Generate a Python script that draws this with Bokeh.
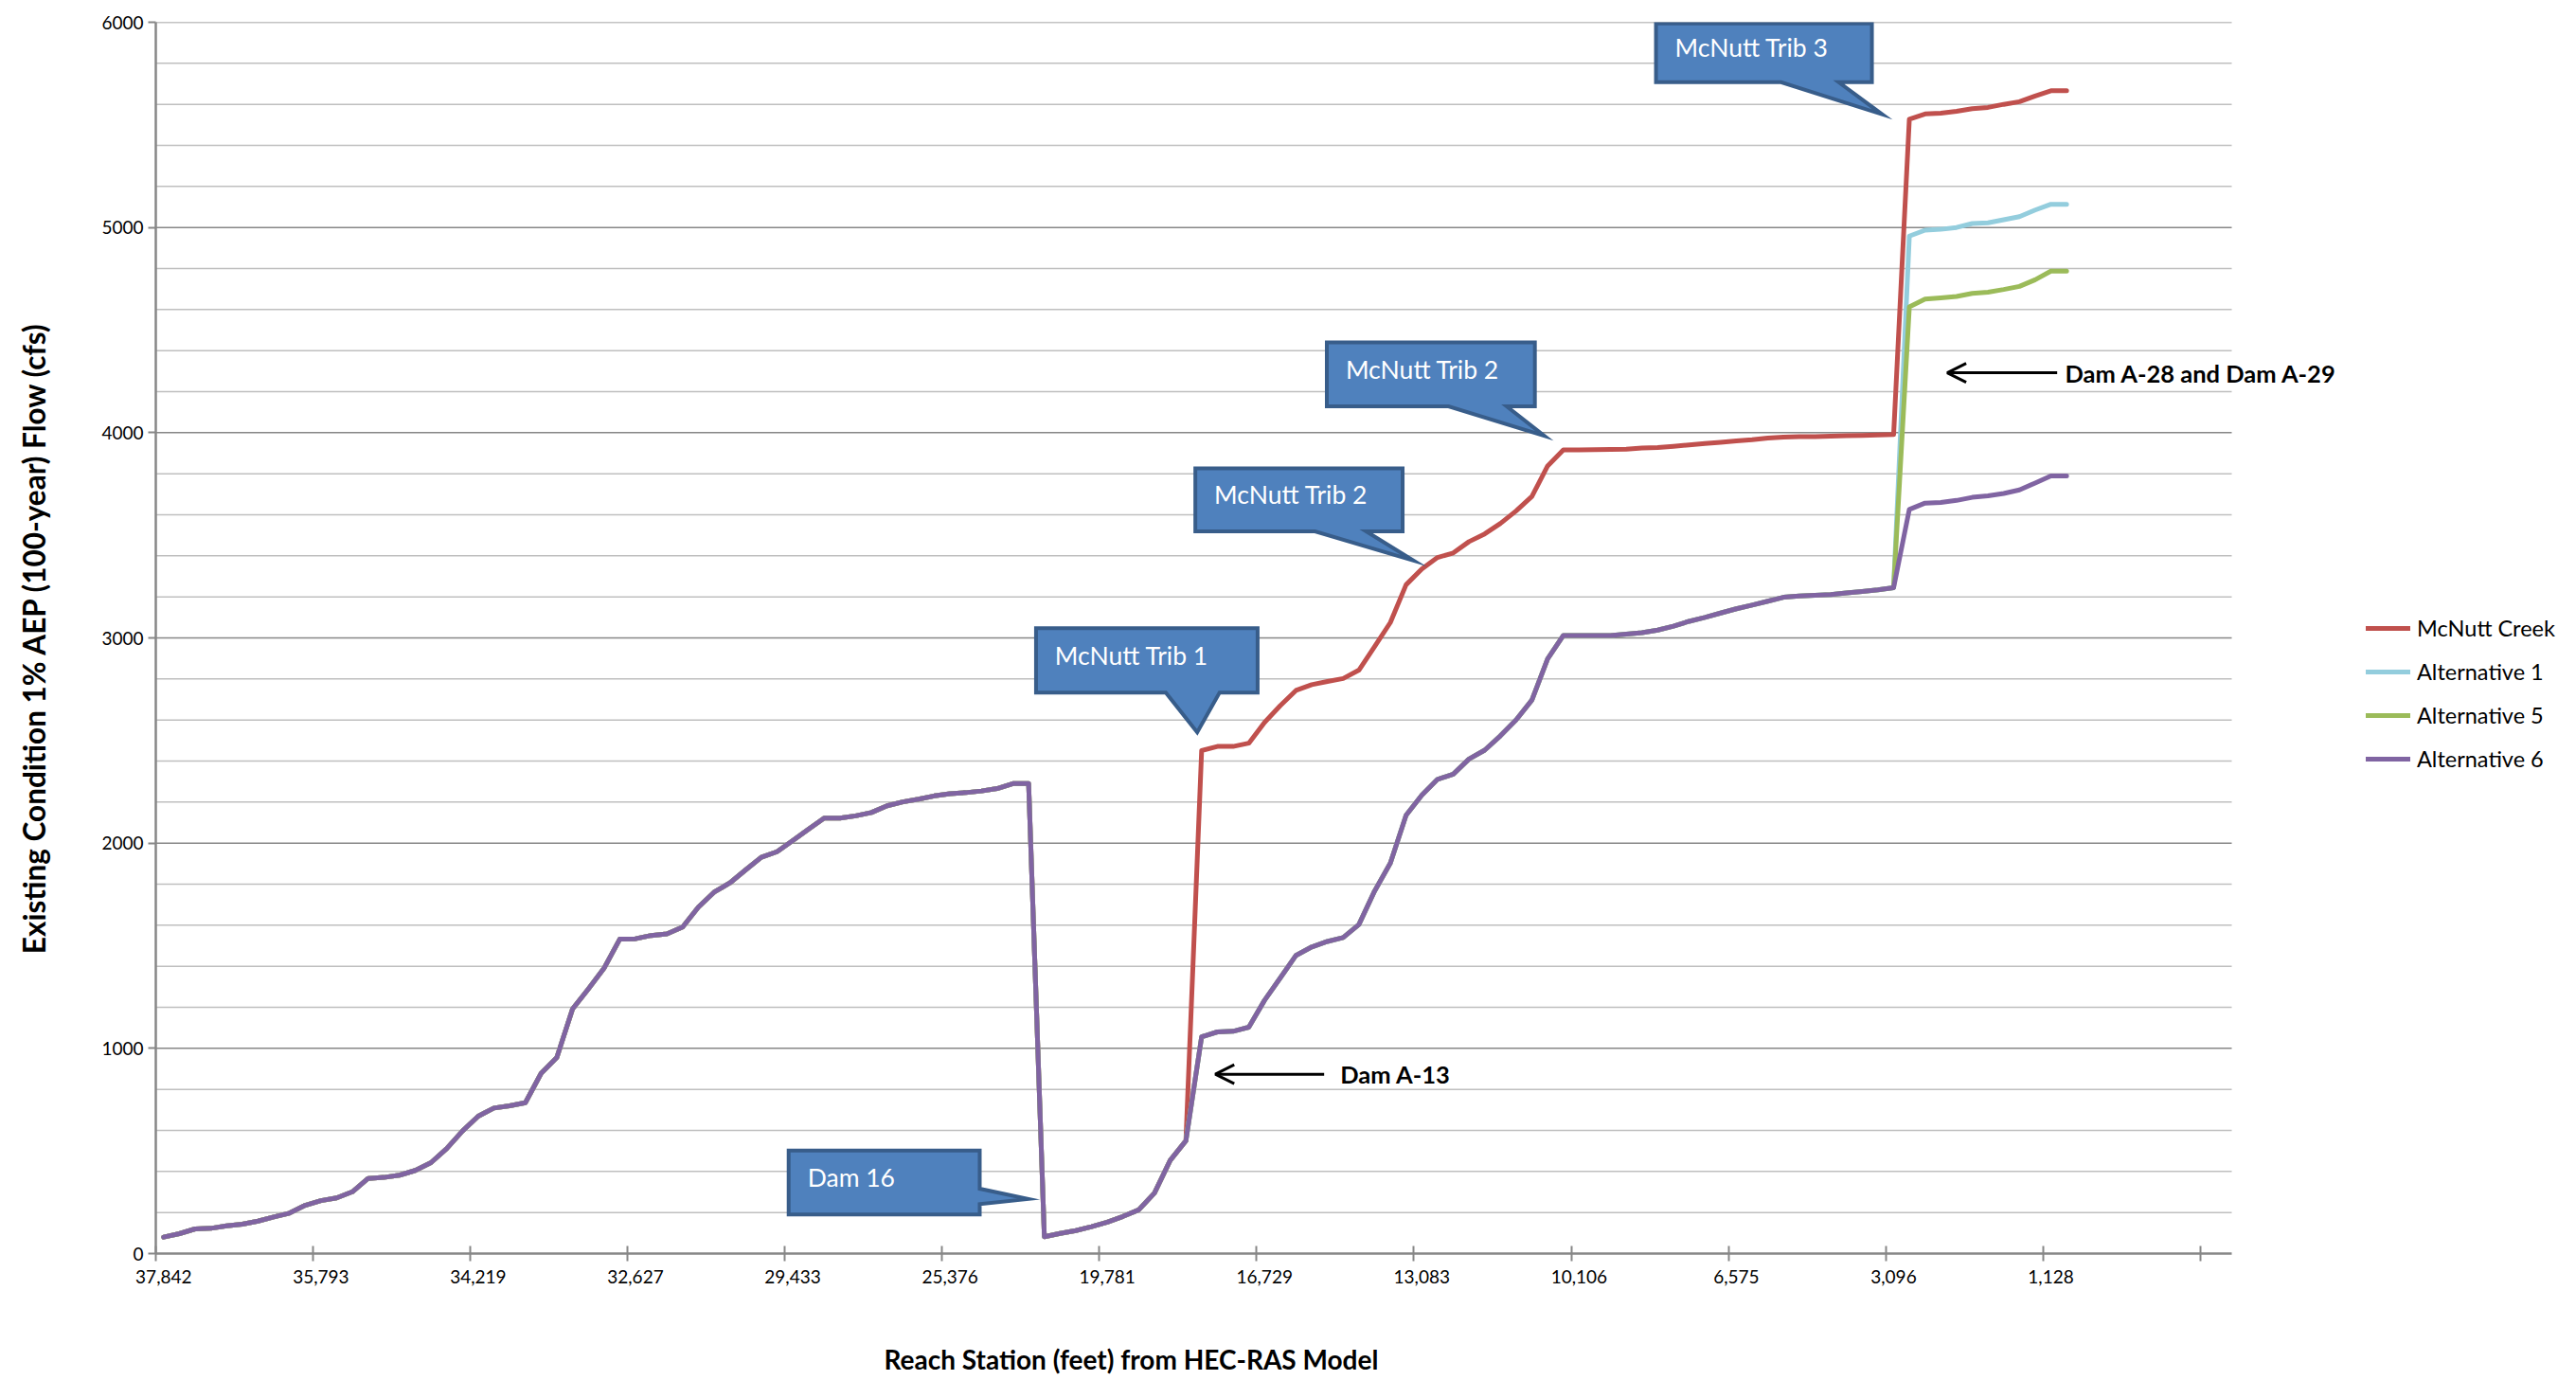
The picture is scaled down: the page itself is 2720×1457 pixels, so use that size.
from bokeh.plotting import figure
from bokeh.models import (Range1d, FixedTicker, SingleIntervalTicker, Legend, LegendItem,
                          Arrow, OpenHead, Label, Title)
from bokeh.embed import file_html
from bokeh.resources import INLINE
from bokeh.core.properties import value

# ---------------- data ----------------
# x axis: categorical reach stations (one per HEC-RAS cross section); labels every 10th
n_categories = 132
station_tick_index = [0, 10, 20, 30, 40, 50, 60, 70, 80, 90, 100, 110, 120]
station_tick_label = ["37,842", "35,793", "34,219", "32,627", "29,433", "25,376", "19,781",
                      "16,729", "13,083", "10,106", "6,575", "3,096", "1,128"]

# Alternative 6 (full reach, cross sections 0..121)
alt6 = [80, 97, 120, 123, 135, 143, 158, 178, 197, 235,
        258, 271, 301, 366, 371, 382, 405, 443, 512, 597,
        669, 709, 720, 735, 878, 955, 1192, 1289, 1390, 1532,
        1534, 1550, 1558, 1591, 1688, 1761, 1806, 1869, 1931, 1958,
        2012, 2068, 2122, 2122, 2133, 2149, 2182, 2201, 2214, 2230,
        2241, 2246, 2254, 2266, 2290, 2290, 82, 98, 112, 131,
        153, 181, 213, 295, 454, 550, 1056, 1080, 1083, 1103,
        1234, 1343, 1453, 1494, 1521, 1540, 1603, 1767, 1903, 2136,
        2234, 2311, 2336, 2410, 2453, 2523, 2601, 2697, 2898, 3012,
        3012, 3012, 3012, 3018, 3025, 3038, 3057, 3081, 3100, 3121,
        3142, 3160, 3179, 3198, 3204, 3208, 3211, 3219, 3226, 3234,
        3245, 3626, 3657, 3660, 3670, 3685, 3692, 3704, 3721, 3755,
        3789, 3789]

# McNutt Creek (existing) differs from cross section 66 on
mcnutt_start = 66
mcnutt_tail = [2451, 2471, 2471, 2487, 2588, 2670, 2744, 2772, 2788, 2802,
               2843, 2958, 3075, 3259, 3336, 3392, 3414, 3469, 3507, 3558,
               3619, 3689, 3838, 3916, 3916, 3917, 3918, 3920, 3925, 3928,
               3934, 3940, 3947, 3953, 3960, 3966, 3974, 3979, 3981, 3981,
               3983, 3985, 3987, 3989, 3991, 5528, 5553, 5557, 5566, 5579,
               5585, 5600, 5613, 5641, 5666, 5666]

# Alternatives 1 and 5 differ from cross section 111 on
alt_start = 111
alt1_tail = [4958, 4987, 4991, 5000, 5019, 5023, 5038, 5053, 5085, 5113, 5113]
alt5_tail = [4613, 4651, 4657, 4664, 4679, 4685, 4698, 4713, 4745, 4787, 4787]

series_names = ["McNutt Creek", "Alternative 1", "Alternative 5", "Alternative 6"]
series_colors = ["#C0504D", "#93CDDD", "#9BBB59", "#8064A2"]

y_max = 6000
y_major = 1000
y_minor = 200

# callouts (data coordinates)
callout_text = ["McNutt Trib 3", "McNutt Trib 2", "McNutt Trib 2", "McNutt Trib 1", "Dam 16"]
callout_left = [94.89, 73.96, 65.60, 55.47, 39.74]
callout_right = [108.62, 87.19, 78.78, 69.56, 51.89]
callout_top = [5994, 4440, 3826, 3047, 502]
callout_bottom = [5708, 4128, 3519, 2733, 190]
callout_base_a = [102.84, 81.70, 73.21, 63.72, 316]
callout_base_b = [106.51, 85.40, 76.46, 67.14, 241]
callout_tip_x = [109.28, 87.79, 79.47, 65.72, 54.96]
callout_tip_y = [5551, 3985, 3377, 2540, 266]
callout_side = ["bottom", "bottom", "bottom", "bottom", "right"]

arrow_text = ["Dam A-13", "Dam A-28 and Dam A-29"]
arrow_x_start = [73.79, 120.40]
arrow_x_end = [66.87, 113.41]
arrow_y = [874, 4292]
arrow_text_x = [74.82, 120.9]

# ---------------- layout ----------------
W, H = 2720, 1457
LEFT, TOP, BOTTOM = 164, 23, 134
AXIS_PX = 2192                      # width of the category axis in pixels
px_per_cat = AXIS_PX / n_categories
frame_w = W - LEFT
x_lo = -0.5
x_axis_hi = n_categories - 0.5
x_hi = x_lo + frame_w / px_per_cat  # frame extends beyond axis for legend / labels

# ---------------- build ----------------
x = list(range(len(alt6)))
mcnutt = alt6[:mcnutt_start] + mcnutt_tail
alt1 = alt6[:alt_start] + alt1_tail
alt5 = alt6[:alt_start] + alt5_tail
all_series = [mcnutt, alt1, alt5, alt6]

FONT = "Lato"

p = figure(width=W, height=H, output_backend="svg", toolbar_location=None,
           x_range=Range1d(x_lo, x_hi), y_range=Range1d(0, y_max),
           min_border_left=LEFT, min_border_right=0, min_border_top=TOP, min_border_bottom=BOTTOM)
p.outline_line_color = None
p.background_fill_color = "white"
p.border_fill_color = "white"

# grid lines limited to the category axis extent
p.xgrid.visible = False
p.ygrid.visible = False
minor_y = [v for v in range(y_minor, y_max + 1, y_minor) if v % y_major != 0]
major_y = list(range(y_major, y_max + 1, y_major))
p.segment(x0=[x_lo] * len(minor_y), x1=[x_axis_hi] * len(minor_y), y0=minor_y, y1=minor_y,
          line_color="#BFBFBF", line_width=1.5)
p.segment(x0=[x_lo] * len(major_y), x1=[x_axis_hi] * len(major_y), y0=major_y, y1=major_y,
          line_color="#878787", line_width=1.5)

# y axis
p.yaxis.ticker = SingleIntervalTicker(interval=y_major, num_minor_ticks=0)
p.yaxis.axis_line_color = "#878787"
p.yaxis.axis_line_width = 2.5
p.yaxis.major_tick_line_color = "#878787"
p.yaxis.major_tick_line_width = 2
p.yaxis.major_tick_in = 0
p.yaxis.major_tick_out = 8
p.yaxis.minor_tick_line_color = None
p.yaxis.major_label_text_font = FONT
p.yaxis.major_label_text_font_size = "19px"
p.yaxis.major_label_text_color = "black"
p.yaxis.axis_label = "Existing Condition 1% AEP (100-year) Flow (cfs)"
p.yaxis.axis_label_text_font = FONT
p.yaxis.axis_label_text_font_size = "31.5px"
p.yaxis.axis_label_text_font_style = "bold"
p.yaxis.axis_label_text_color = "black"
p.yaxis.axis_label_standoff = 49

# x axis
p.xaxis.bounds = (x_lo, x_axis_hi)
p.xaxis.ticker = FixedTicker(ticks=station_tick_index,
                             minor_ticks=[i - 0.5 for i in range(0, n_categories, 10)])
p.xaxis.major_label_overrides = dict(zip(station_tick_index, station_tick_label))
p.xaxis.axis_line_color = "#878787"
p.xaxis.axis_line_width = 2.5
p.xaxis.major_tick_line_color = None
p.xaxis.minor_tick_line_color = "#878787"
p.xaxis.minor_tick_line_width = 2
p.xaxis.minor_tick_in = 8
p.xaxis.minor_tick_out = 8
p.xaxis.major_label_standoff = 9
p.xaxis.major_label_text_font = FONT
p.xaxis.major_label_text_font_size = "19px"
p.xaxis.major_label_text_color = "black"

xtitle = Title(text="Reach Station (feet) from HEC-RAS Model", align="left", offset=769,
               standoff=4, text_font=FONT, text_font_size="28px", text_font_style="bold",
               text_color="black")
try:
    xtitle.padding = dict(left=0, right=0, top=56, bottom=0)
except Exception:
    xtitle.standoff = 55
p.add_layout(xtitle, "below")

# series
items = []
for name, color, ys in zip(series_names, series_colors, all_series):
    r = p.line(x, ys, line_color=color, line_width=5, line_join="round", line_cap="round")
    items.append(LegendItem(label=name, renderers=[r]))

legend = Legend(items=items, location=(2334, 508), orientation="vertical",
                glyph_width=47, glyph_height=24, label_height=24, spacing=18,
                label_standoff=7, padding=0, margin=0,
                border_line_color=None, background_fill_alpha=0,
                label_text_font=FONT, label_text_font_size="23.5px", label_text_color="black")
p.add_layout(legend, "center")

# callouts
xs, ys = [], []
for i in range(len(callout_text)):
    L, R, T, B = callout_left[i], callout_right[i], callout_top[i], callout_bottom[i]
    a, b = callout_base_a[i], callout_base_b[i]
    tx, ty = callout_tip_x[i], callout_tip_y[i]
    if callout_side[i] == "bottom":
        xs.append([L, R, R, b, tx, a, L])
        ys.append([T, T, B, B, ty, B, B])
    else:
        xs.append([L, R, R, tx, R, R, L])
        ys.append([T, T, a, ty, b, B, B])
p.patches(xs, ys, fill_color="#4F81BD", line_color="#385D8A", line_width=4, line_join="miter")

text_x = [L + 1.2 for L in callout_left]
text_y = [(T + B) / 2 + 25 for T, B in zip(callout_top, callout_bottom)]
p.text(text_x, text_y, text=callout_text, text_color="white", text_font=value(FONT),
       text_font_size="26.5px", text_baseline="middle", text_align="left")

# arrows with labels
for i in range(len(arrow_text)):
    p.add_layout(Arrow(end=OpenHead(size=20, line_width=3, line_color="black"),
                       x_start=arrow_x_start[i], y_start=arrow_y[i],
                       x_end=arrow_x_end[i], y_end=arrow_y[i],
                       line_width=3, line_color="black"))
    p.add_layout(Label(x=arrow_text_x[i], y=arrow_y[i], text=arrow_text[i],
                       text_color="black", text_font=FONT, text_font_size="25.5px",
                       text_font_style="bold", text_baseline="middle", text_align="left"))

open("out.html", "w").write(file_html(p, INLINE))
